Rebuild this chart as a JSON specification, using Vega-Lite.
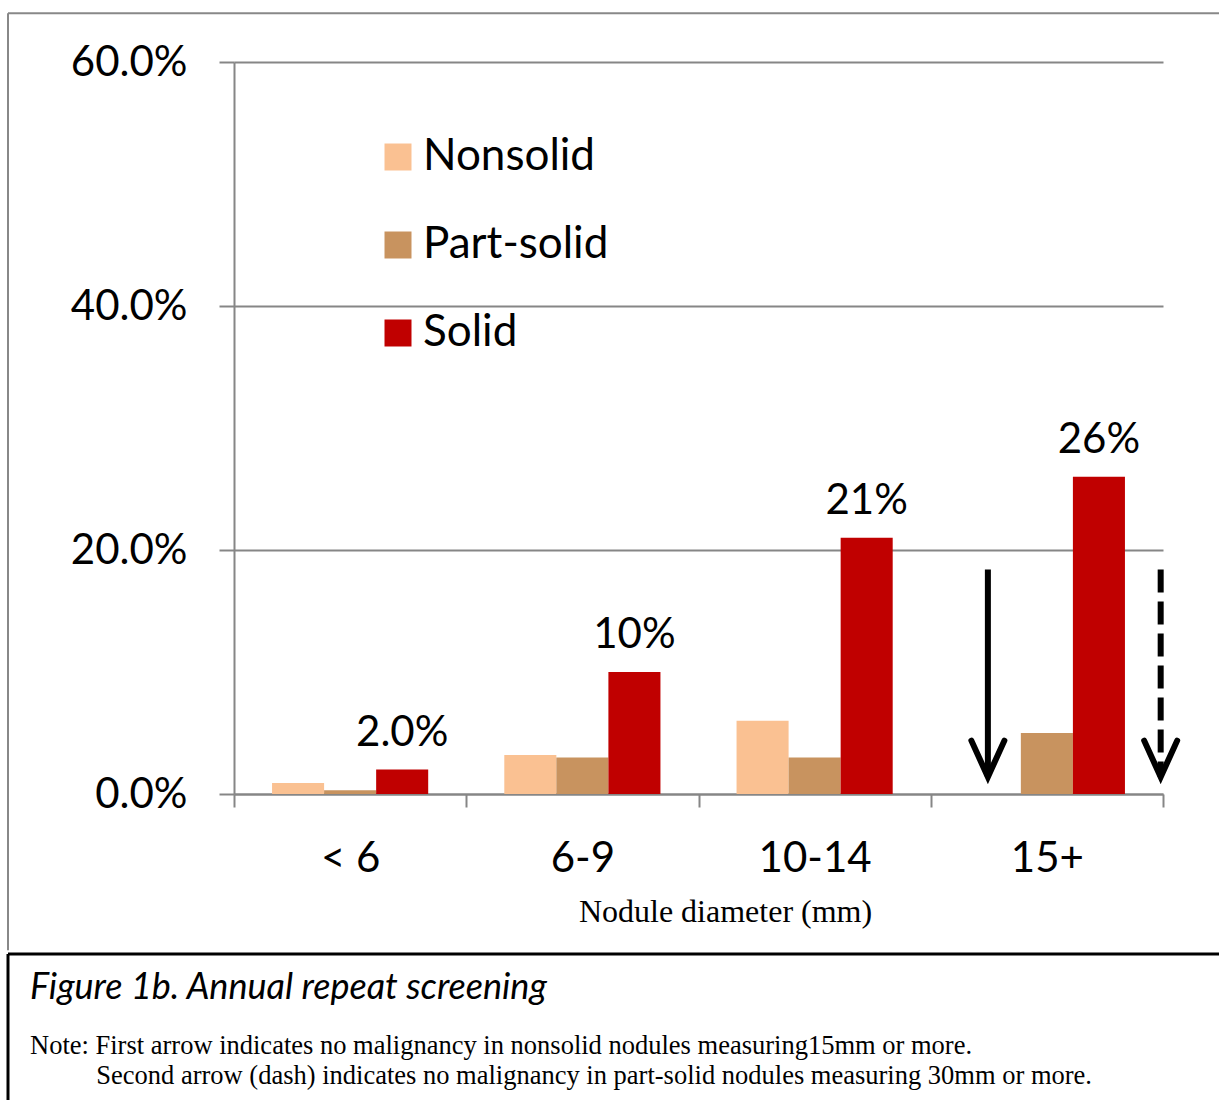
{
  "$schema": "https://vega.github.io/schema/vega-lite/v6.json",
  "background": "white",
  "padding": {"left": 6, "top": 12, "right": 0, "bottom": 0},
  "spacing": 0,
  "config": {"view": {"stroke": null}, "font": "Lato"},
  "vconcat": [
    {
      "width": 929,
      "height": 732,
      "resolve": {"scale": {"x": "independent"}},
      "layer": [
        {
          "data": {"values": [
            {"cat": "< 6", "type": "Nonsolid", "rate": 0.009, "label": ""},
            {"cat": "< 6", "type": "Part-solid", "rate": 0.003, "label": ""},
            {"cat": "< 6", "type": "Solid", "rate": 0.020, "label": "2.0%"},
            {"cat": "6-9", "type": "Nonsolid", "rate": 0.032, "label": ""},
            {"cat": "6-9", "type": "Part-solid", "rate": 0.030, "label": ""},
            {"cat": "6-9", "type": "Solid", "rate": 0.100, "label": "10%"},
            {"cat": "10-14", "type": "Nonsolid", "rate": 0.060, "label": ""},
            {"cat": "10-14", "type": "Part-solid", "rate": 0.030, "label": ""},
            {"cat": "10-14", "type": "Solid", "rate": 0.210, "label": "21%"},
            {"cat": "15+", "type": "Part-solid", "rate": 0.050, "label": ""},
            {"cat": "15+", "type": "Solid", "rate": 0.260, "label": "26%"}
          ]},
          "layer": [
            {
              "mark": {"type": "bar"},
              "encoding": {
                "x": {
                  "field": "cat", "type": "nominal",
                  "scale": {"domain": ["< 6", "6-9", "10-14", "15+"], "paddingInner": 0, "paddingOuter": 0},
                  "axis": {
                    "title": "Nodule diameter (mm)",
                    "titleFont": "Liberation Serif", "titleFontSize": 32, "titleFontWeight": "normal", "titleColor": "black", "titlePadding": 17, "titleX": 491,
                    "labelAngle": 0, "labelFont": "Lato", "labelFontSize": 42, "labelColor": "black", "labelPadding": 31,
                    "tickBand": "extent", "tickSize": 13, "tickColor": "#868686", "tickWidth": 2,
                    "domainColor": "#868686", "domainWidth": 2, "grid": false
                  }
                },
                "xOffset": {
                  "field": "type", "type": "nominal",
                  "scale": {"domain": ["Nonsolid", "Part-solid", "Solid"], "paddingInner": 0, "paddingOuter": 0.731}
                },
                "y": {
                  "field": "rate", "type": "quantitative",
                  "scale": {"domain": [0, 0.6], "nice": false},
                  "axis": {
                    "title": null, "values": [0, 0.2, 0.4, 0.6], "format": ".1%",
                    "labelFont": "Lato", "labelFontSize": 42, "labelColor": "black", "labelPadding": 32,
                    "tickSize": 15, "tickColor": "#868686", "tickWidth": 2,
                    "domainColor": "#868686", "domainWidth": 2,
                    "gridColor": "#868686", "gridWidth": 2,
                    "minExtent": 226, "maxExtent": 226
                  }
                },
                "color": {
                  "field": "type", "type": "nominal",
                  "scale": {"domain": ["Nonsolid", "Part-solid", "Solid"], "range": ["#FAC192", "#C8935F", "#C00000"]},
                  "legend": {
                    "orient": "none", "legendX": 142, "legendY": 73, "title": null,
                    "labelFont": "Lato", "labelFontSize": 44, "labelColor": "black", "labelLimit": 0,
                    "symbolType": "square", "symbolSize": 729, "symbolStrokeWidth": 0, "symbolOpacity": 1,
                    "rowPadding": 44, "labelOffset": 3
                  }
                }
              }
            },
            {
              "transform": [{"filter": "datum.label != ''"}],
              "mark": {"type": "text", "baseline": "alphabetic", "dy": -24, "fontSize": 42, "font": "Lato", "color": "black"},
              "encoding": {
                "x": {"field": "cat", "type": "nominal"},
                "xOffset": {"field": "type", "type": "nominal"},
                "y": {"field": "rate", "type": "quantitative"},
                "text": {"field": "label"}
              }
            },
            {
              "data": {"values": [{"cat": "15+", "top": 0.184, "tip": 0.014}]},
              "mark": {"type": "rule", "strokeWidth": 6, "color": "black"},
              "encoding": {
                "x": {"field": "cat", "type": "nominal", "bandPosition": 0.246},
                "y": {"field": "top", "type": "quantitative"},
                "y2": {"field": "tip"}
              }
            },
            {
              "data": {"values": [{"cat": "15+", "top": 0.184, "tip": 0.014}]},
              "mark": {"type": "point", "shape": "M-1,-2.2L0,0L1,-2.2", "size": 1089, "filled": false, "stroke": "black", "strokeWidth": 6, "opacity": 1, "strokeCap": "round"},
              "encoding": {
                "x": {"field": "cat", "type": "nominal", "bandPosition": 0.246},
                "y": {"field": "tip", "type": "quantitative"}
              }
            },
            {
              "data": {"values": [{"cat": "15+", "top": 0.184, "tip": 0.014}]},
              "mark": {"type": "rule", "strokeWidth": 6, "color": "black", "strokeDash": [23, 9]},
              "encoding": {
                "x": {"field": "cat", "type": "nominal", "bandPosition": 0.99},
                "y": {"field": "top", "type": "quantitative"},
                "y2": {"field": "tip"}
              }
            },
            {
              "data": {"values": [{"cat": "15+", "top": 0.184, "tip": 0.014}]},
              "mark": {"type": "point", "shape": "M-1,-2.2L0,0L1,-2.2", "size": 1089, "filled": false, "stroke": "black", "strokeWidth": 6, "opacity": 1, "strokeCap": "round"},
              "encoding": {
                "x": {"field": "cat", "type": "nominal", "bandPosition": 0.99},
                "y": {"field": "tip", "type": "quantitative"}
              }
            }
          ]
        },
        {
          "data": {"values": [{"frame": 1}]},
          "layer": [
            {
              "mark": {"type": "rule", "color": "#888888", "strokeWidth": 2},
              "encoding": {
                "x": {"datum": 0, "type": "quantitative", "scale": {"domain": [0, 1], "range": [-226, 985]}, "axis": null},
                "x2": {"datum": 1},
                "y": {"datum": 0.64, "type": "quantitative"}
              }
            },
            {
              "mark": {"type": "rule", "color": "#888888", "strokeWidth": 2},
              "encoding": {
                "x": {"datum": 0, "type": "quantitative"},
                "y": {"datum": 0.64, "type": "quantitative"},
                "y2": {"datum": -0.128}
              }
            }
          ]
        }
      ]
    },
    {
      "width": 985,
      "height": 146,
      "data": {"values": [{"frame": 1}]},
      "title": {
        "text": "Figure 1b. Annual repeat screening",
        "subtitle": ["Note: First arrow indicates no malignancy in nonsolid nodules measuring15mm or more.", "\u200b\u00a0\u00a0\u00a0\u00a0\u00a0\u00a0\u00a0\u00a0\u00a0\u00a0Second arrow (dash) indicates no malignancy in part-solid nodules measuring 30mm or more."],
        "orient": "top", "anchor": "start", "frame": "group", "offset": -138, "dx": -204,
        "font": "Lato", "fontStyle": "italic", "fontWeight": "normal", "fontSize": 36, "color": "black",
        "subtitleFont": "Liberation Serif", "subtitleFontSize": 26.5, "subtitleColor": "black", "subtitlePadding": 26, "subtitleLineHeight": 30
      },
      "layer": [
        {
          "mark": {"type": "rule", "color": "black", "strokeWidth": 3},
          "encoding": {
            "x": {"datum": 0, "type": "quantitative", "scale": {"domain": [0, 1], "range": [-226, 985]}, "axis": null},
            "x2": {"datum": 1},
            "y": {"datum": 1, "type": "quantitative", "scale": {"domain": [0, 1]}, "axis": null}
          }
        },
        {
          "mark": {"type": "rule", "color": "black", "strokeWidth": 3},
          "encoding": {"x": {"datum": 0, "type": "quantitative"}}
        }
      ]
    }
  ]
}
